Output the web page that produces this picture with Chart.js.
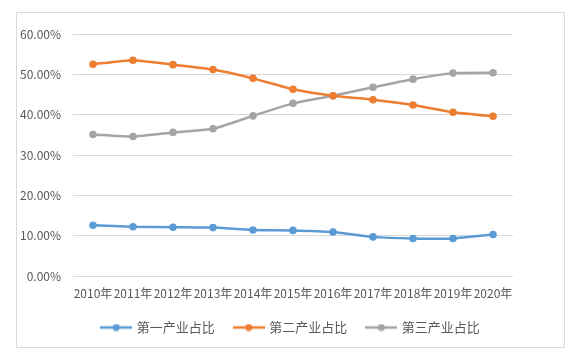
<!DOCTYPE html>
<html>
<head>
<meta charset="utf-8">
<script src="https://cdn.jsdelivr.net/npm/chart.js@4"></script>
<style>
  html, body { margin: 0; padding: 0; background: #fff; }
  #wrap { position: relative; width: 574px; height: 360px; }
</style>
</head>
<body>
<div id="wrap"><canvas id="chart" width="574" height="360"></canvas></div>
<script>
// data (percent)
const years = ['2010年', '2011年', '2012年', '2013年', '2014年', '2015年', '2016年', '2017年', '2018年', '2019年', '2020年'];
const primaryShare = [12.6, 12.2, 12.1, 12.0, 11.4, 11.3, 10.9, 9.7, 9.3, 9.3, 10.3];
const secondaryShare = [52.5, 53.5, 52.4, 51.2, 49.0, 46.3, 44.7, 43.7, 42.4, 40.6, 39.6];
const tertiaryShare = [35.1, 34.6, 35.6, 36.5, 39.7, 42.8, 44.7, 46.8, 48.8, 50.3, 50.4];
const seriesNames = ['第一产业占比', '第二产业占比', '第三产业占比'];
const yTicks = [0, 10, 20, 30, 40, 50, 60];

const colors = ['#5B9BD5', '#ED7D31', '#A5A5A5'];
const fontFamily = '"Noto Sans CJK SC", "Noto Sans", sans-serif';

// legend marker: short line with a dot in the middle
function legendMarker(color) {
    const c = document.createElement('canvas');
    c.width = 32;
    c.height = 8;
    const g = c.getContext('2d');
    g.strokeStyle = color;
    g.lineWidth = 2.5;
    g.beginPath();
    g.moveTo(0, 4);
    g.lineTo(32, 4);
    g.stroke();
    g.fillStyle = color;
    g.beginPath();
    g.arc(16, 4, 3.5, 0, Math.PI * 2);
    g.fill();
    return c;
}

// outer frame around the chart, and a small nudge of the legend
const framePlugin = {
    id: 'frame',
    afterLayout(chart) {
        const lg = chart.legend;
        lg.top -= 6;
        lg.bottom -= 6;
        lg.left += 4;
        lg.right += 4;
    },
    beforeDraw(chart) {
        const ctx = chart.ctx;
        ctx.save();
        ctx.strokeStyle = '#d9d9d9';
        ctx.lineWidth = 1;
        ctx.strokeRect(16.5, 12.5, 548, 335);
        ctx.restore();
    }
};

const datasets = [primaryShare, secondaryShare, tertiaryShare].map(function(values, i) {
    return {
        label: seriesNames[i],
        data: values,
        borderColor: colors[i],
        backgroundColor: colors[i],
        borderWidth: 2.5,
        pointRadius: 3.8,
        pointHoverRadius: 3.8,
        pointBorderWidth: 0,
        pointStyle: 'circle',
        legendImage: legendMarker(colors[i]),
        tension: 0.15,
        fill: false,
        yAxisID: 'y'
    };
});

new Chart(document.getElementById('chart'), {
    type: 'line',
    data: { labels: years, datasets: datasets },
    plugins: [framePlugin],
    options: {
        responsive: false,
        animation: false,
        layout: { padding: { left: 16, right: 16, top: 34, bottom: 10 } },
        plugins: {
            tooltip: { enabled: false },
            legend: {
                position: 'bottom',
                labels: {
                    usePointStyle: true,
                    pointStyleWidth: 28,
                    color: '#595959',
                    font: { family: fontFamily, size: 13 },
                    padding: 20,
                    generateLabels: function(chart) {
                        return chart.data.datasets.map(function(ds, i) {
                            return {
                                text: ds.label,
                                fillStyle: ds.borderColor,
                                strokeStyle: ds.borderColor,
                                pointStyle: ds.legendImage,
                                fontColor: '#595959',
                                lineWidth: 0,
                                datasetIndex: i
                            };
                        });
                    }
                }
            }
        },
        scales: {
            x: {
                offset: true,
                grid: { display: false },
                border: { display: false },
                ticks: {
                    autoSkip: false,
                    maxRotation: 0,
                    color: '#595959',
                    font: { family: fontFamily, size: 12 },
                    padding: 2
                },
                afterFit: function(scale) { scale.height = 31; }
            },
            y: {
                min: 0,
                max: 60,
                afterBuildTicks: function(scale) {
                    scale.ticks = yTicks.map(function(v) { return { value: v }; });
                },
                grid: { color: '#d9d9d9', lineWidth: 1, drawTicks: false },
                border: { display: false },
                ticks: {
                    color: '#595959',
                    font: { family: fontFamily, size: 12 },
                    padding: 12,
                    callback: function(v) { return v.toFixed(2) + '%'; }
                },
                afterFit: function(scale) { scale.width = 57; }
            },
            // empty right-hand axis, only keeps the plot narrower than the frame
            yRight: {
                position: 'right',
                display: true,
                grid: { display: false },
                border: { display: false },
                ticks: { display: false },
                afterFit: function(scale) { scale.width = 45; }
            }
        }
    }
});
</script>
</body>
</html>
